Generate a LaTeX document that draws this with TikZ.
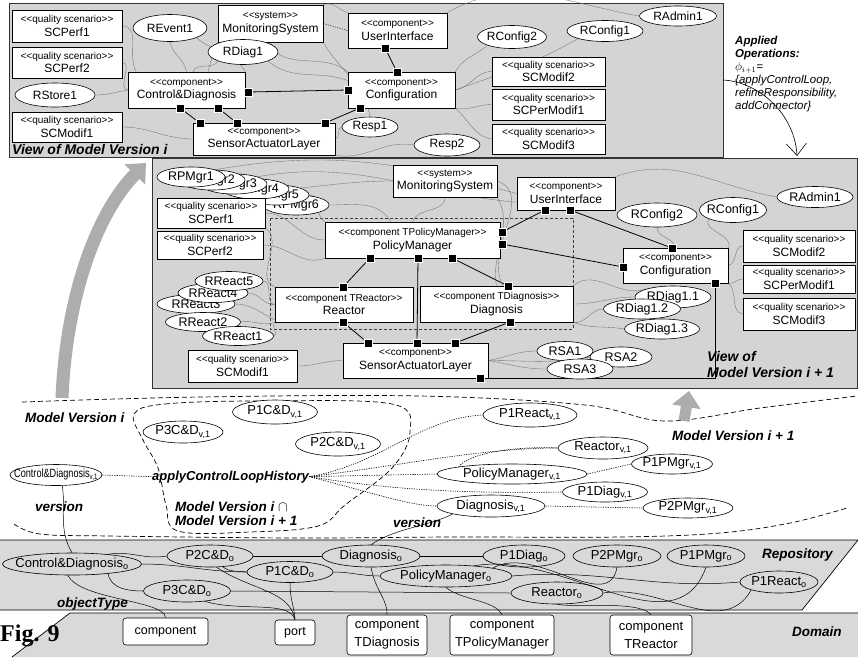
\documentclass[tikz,border=0pt]{standalone}
\usepackage{fontspec}
\usepackage{graphicx}
\setmainfont{Liberation Sans}
\newfontfamily\serfont{Liberation Serif}
\usetikzlibrary{shapes.geometric,arrows.meta}
\newcommand{\stq}[1]{{\fontsize{10}{12}\selectfont <\kern0pt<#1>\kern0pt>}}
\newcommand{\sbv}{\textsubscript{v,1}}
\newcommand{\sbo}{\textsubscript{o}}
\pgfdeclarelayer{back}
\pgfdeclarelayer{mid}
\pgfsetlayers{back,mid,main}
\tikzset{
  cbox/.style={draw=black, fill=white, line width=0.6pt, align=center, inner sep=1pt, font=\fontsize{12}{13.5}\selectfont},
  ell/.style={ellipse, draw=black, fill=white, line width=0.6pt, inner xsep=-14pt, inner ysep=-3pt, font=\fontsize{12}{14}\selectfont},
  vell/.style={ell, font=\fontsize{13}{15}\selectfont},
  rell/.style={ellipse, draw=black, line width=0.6pt, inner xsep=-14pt, inner ysep=-3pt, font=\fontsize{13}{15}\selectfont},
  port/.style={rectangle, fill=black, draw=white, line width=0.6pt, minimum size=8pt, inner sep=0pt},
  link/.style={draw=black!55, line width=0.35pt},
  conn/.style={draw=black, line width=0.8pt},
  lbl/.style={font=\fontsize{13.5}{15}\selectfont\bfseries\itshape, inner sep=0pt, anchor=base west},
  dotl/.style={draw=black, line width=0.6pt, dash pattern=on 1.2pt off 1.2pt},
  dashl/.style={draw=black, line width=0.7pt, dash pattern=on 5pt off 3pt},
  panel/.style={fill=black!17, draw=black!80, line width=0.7pt},
  dbox/.style={rounded corners=3pt, draw=black, fill=white, line width=0.6pt, align=center, font=\fontsize{13}{18}\selectfont, inner sep=1pt},
  rlink/.style={draw=black, line width=0.5pt},
  bigarr/.style={draw=black!32, line width=13pt, -{Triangle[length=16pt,width=28pt]}},
}
\begin{document}
\begin{tikzpicture}[x=1pt,y=-1pt]
\useasboundingbox (0,0) rectangle (858,657);

% ================= backgrounds =================
\begin{pgfonlayer}{back}
\fill[white] (0,0) rectangle (858,657);
\draw[panel] (9,3) rectangle (723,157);
\draw[panel] (152,158) rectangle (857,388);
\fill[black!15] (0,540) -- (858,540) -- (802,610) -- (0,610) -- cycle;
\draw[line width=0.7pt] (0,540) -- (858,540) -- (802,610) -- (0,610);
\fill[black!15] (70,613) -- (858,613) -- (858,657) -- (12,657) -- cycle;
\draw[line width=0.7pt] (12,657) -- (70,613) -- (858,613);
\end{pgfonlayer}

% ================= top panel: View of Model Version i =================
\node[cbox, minimum width=110, minimum height=32] (tscperf1) at (67,26) {\stq{quality scenario}\\SCPerf1};
\node[cbox, minimum width=110, minimum height=31] (tscperf2) at (67,62.5) {\stq{quality scenario}\\SCPerf2};
\node[cbox, minimum width=110, minimum height=30] (tscmodif1) at (67,127) {\stq{quality scenario}\\SCModif1};
\node[cbox, minimum width=105, minimum height=37] (tmon) at (270.5,23.5) {\stq{system}\\MonitoringSystem};
\node[cbox, minimum width=117, minimum height=36] (tcd) at (186.5,90) {\stq{component}\\Control\&Diagnosis};
\node[cbox, minimum width=99, minimum height=35] (tui) at (397.5,30.5) {\stq{component}\\UserInterface};
\node[cbox, minimum width=107, minimum height=36] (tcfg) at (401.5,90) {\stq{component}\\Configuration};
\node[cbox, minimum width=142, minimum height=32] (tsal) at (264,139) {\stq{component}\\SensorActuatorLayer};
\node[cbox, minimum width=113, minimum height=29] (tscmodif2) at (548.5,71.5) {\stq{quality scenario}\\SCModif2};
\node[cbox, minimum width=113, minimum height=31] (tscpm1) at (548.5,104.5) {\stq{quality scenario}\\SCPerModif1};
\node[cbox, minimum width=113, minimum height=30] (tscmodif3) at (548.5,139) {\stq{quality scenario}\\SCModif3};

\node[ell, minimum width=74, minimum height=27] (trevent1) at (170,28) {REvent1};
\node[ell, minimum width=70, minimum height=25] (trdiag1) at (243,52) {RDiag1};
\node[ell, minimum width=80, minimum height=24] (trstore1) at (55,95) {RStore1};
\node[ell, minimum width=69, minimum height=23] (trconfig2) at (512,37) {RConfig2};
\node[ell, minimum width=76, minimum height=21] (trconfig1) at (605,31) {RConfig1};
\node[ell, minimum width=77, minimum height=20] (tradmin1) at (678,16) {RAdmin1};
\node[ell, minimum width=56, minimum height=20] (tresp1) at (370,127) {Resp1};
\node[ell, minimum width=66, minimum height=22] (tresp2) at (447,145) {Resp2};

\node[port] (tcdp1) at (248,92) {};
\node[port] (tcdp2) at (180,108) {};
\node[port] (tcdp3) at (218,108) {};
\node[port] (tsalp1) at (200,123) {};
\node[port] (tsalp2) at (237,123) {};
\node[port] (tsalp3) at (325,123) {};
\node[port] (tcfgp1) at (397,72) {};
\node[port] (tcfgp2) at (348,90) {};
\node[port] (tcfgp3) at (360,108) {};
\node[port] (tuip1) at (385,48) {};

\node[lbl, font=\fontsize{14}{16}\selectfont\bfseries\itshape] (tview) at (12,154) {View of Model Version i};

\begin{pgfonlayer}{mid}
\draw[conn] (tcdp1) -- (tcfgp2);
\draw[conn] (tcdp2) -- (tsalp1);
\draw[conn] (tcdp3) -- (tsalp2);
\draw[conn] (tsalp3) -- (tcfgp3);
\draw[conn] (tuip1) -- (tcfgp1);
\draw[link] (tscperf1.east) to[out=0,in=120] (tcd.160);
\draw[link] (tscperf2.east) to[out=0,in=170] (tcd.west);
\draw[link] (trstore1.east) to[out=0,in=190] (tcd.west);
\draw[link] (tscmodif1.east) to[out=0,in=180] (tsal.west);
\draw[link] (trevent1.south) to[out=-80,in=100] (tcd.north);
\draw[link] (trevent1.south east) to[out=-40,in=120] (tcd.north east);
\draw[link] (trdiag1.south west) to[out=-120,in=70] (tcd.70);
\draw[link] (tmon.south west) to[out=-110,in=80] (tcd.40);
\draw[link] (tmon.south) to[out=-70,in=140] (tcfg.north west);
\draw[link] (trdiag1.south east) to[out=-40,in=160] (tcfg.170);
\draw[dotl, line width=0.4pt] (tmon.east) -- (tui.west);
\draw[link] (tmon.north east) to[out=20,in=160] (tui.north west);
\draw[link] (trconfig2.south west) to[out=-140,in=60] (tcfg.north east);
\draw[link] (trconfig1.south west) to[out=-150,in=20] (tcfg.east);
\draw[link] (tradmin1.west) to[out=170,in=30] (tui.north east);
\draw[link] (tscmodif2.west) to[out=180,in=10] (tcfg.east);
\draw[link] (tscpm1.west) to[out=180,in=-10] (tcfg.south east);
\draw[link] (tscmodif3.west) to[out=170,in=-40] (tcfg.south east);
\draw[link] (tresp1.west) to[out=180,in=0] (tsal.east);
\draw[link] (tresp2.west) to[out=170,in=-10] (tsal.south east);
\draw[link] (tmon.south east) to[out=-60,in=100] (tresp1.north);
\end{pgfonlayer}

% Applied operations
\node[anchor=north west, align=left, inner sep=0pt, font=\fontsize{11.5}{13}\selectfont\itshape] (apops) at (735,36)
  {\textbf{Applied}\\\textbf{Operations:}\\$\phi_{i+1}$=\\\{applyControlLoop,\\refineResponsibility,\\addConnector\}};
\coordinate (opsstart) at (723,80);
\coordinate (opsend) at (797,156);
\draw[line width=0.6pt, -{Straight Barb[length=12pt,width=20pt]}] (opsstart) .. controls (760,82) and (795,115) .. (opsend);

% ================= middle panel: View of Model Version i+1 =================
\node[ell, font=\fontsize{12.5}{14}\selectfont, minimum width=66, minimum height=20] (mrpmgr6) at (296,205) {RPMgr6};
\node[ell, font=\fontsize{12.5}{14}\selectfont, minimum width=66, minimum height=20] (mrpmgr5) at (276,195) {RPMgr5};
\node[ell, font=\fontsize{12.5}{14}\selectfont, minimum width=66, minimum height=20] (mrpmgr4) at (256,189) {RPMgr4};
\node[ell, font=\fontsize{12.5}{14}\selectfont, minimum width=66, minimum height=20] (mrpmgr3) at (234,184) {RPMgr3};
\node[ell, font=\fontsize{12.5}{14}\selectfont, minimum width=66, minimum height=20] (mrpmgr2) at (212,180) {RPMgr2};
\node[ell, font=\fontsize{12.5}{14}\selectfont, minimum width=68, minimum height=20] (mrpmgr1) at (191,177) {RPMgr1};

\node[cbox, minimum width=108, minimum height=30] (mscperf1) at (211,213) {\stq{quality scenario}\\SCPerf1};
\node[cbox, minimum width=106, minimum height=28] (mscperf2) at (210,245) {\stq{quality scenario}\\SCPerf2};

\node[ell, font=\fontsize{12.5}{14}\selectfont, minimum width=78, minimum height=19] (mrreact3) at (196,304) {RReact3};
\node[ell, font=\fontsize{12.5}{14}\selectfont, minimum width=70, minimum height=19] (mrreact4) at (213,293) {RReact4};
\node[ell, font=\fontsize{12.5}{14}\selectfont, minimum width=68, minimum height=19] (mrreact5) at (229,281) {RReact5};
\node[ell, font=\fontsize{12.5}{14}\selectfont, minimum width=75, minimum height=19] (mrreact2) at (203,322) {RReact2};
\node[ell, font=\fontsize{12.5}{14}\selectfont, minimum width=71, minimum height=19] (mrreact1) at (238,336) {RReact1};
\node[cbox, minimum width=109, minimum height=32] (mscmodif1) at (242.5,366) {\stq{quality scenario}\\SCModif1};

\node[cbox, minimum width=175, minimum height=36] (mpm) at (412.5,240) {\stq{component TPolicyManager}\\PolicyManager};
\node[cbox, minimum width=138, minimum height=35] (mreactor) at (344,304.5) {\stq{component TReactor}\\Reactor};
\node[cbox, minimum width=153, minimum height=36] (mdiag) at (496.5,304) {\stq{component TDiagnosis}\\Diagnosis};
\node[cbox, minimum width=145, minimum height=35] (msal) at (415.5,360.5) {\stq{component}\\SensorActuatorLayer};
\node[cbox, minimum width=104, minimum height=32] (mmon) at (445,181) {\stq{system}\\MonitoringSystem};
\node[cbox, minimum width=98, minimum height=33] (mui) at (566,193.5) {\stq{component}\\UserInterface};
\node[cbox, minimum width=105, minimum height=35] (mcfg) at (675.5,265.5) {\stq{component}\\Configuration};
\node[cbox, minimum width=112, minimum height=32] (mscmodif2) at (799,246) {\stq{quality scenario}\\SCModif2};
\node[cbox, minimum width=112, minimum height=28] (mscpm1) at (799,279) {\stq{quality scenario}\\SCPerModif1};
\node[cbox, minimum width=112, minimum height=32] (mscmodif3) at (799,314) {\stq{quality scenario}\\SCModif3};

\node[ell, font=\fontsize{12.5}{14}\selectfont, minimum width=80, minimum height=24] (mrconfig2) at (657,215) {RConfig2};
\node[ell, font=\fontsize{12.5}{14}\selectfont, minimum width=67, minimum height=25] (mrconfig1) at (733,210) {RConfig1};
\node[ell, font=\fontsize{12.5}{14}\selectfont, minimum width=76, minimum height=21] (mradmin1) at (815,197) {RAdmin1};
\node[ell, font=\fontsize{12.5}{14}\selectfont, minimum width=76, minimum height=22] (mrdiag11) at (673,297) {RDiag1.1};
\node[ell, font=\fontsize{12.5}{14}\selectfont, minimum width=77, minimum height=20] (mrdiag12) at (642,309) {RDiag1.2};
\node[ell, font=\fontsize{12.5}{14}\selectfont, minimum width=75, minimum height=20] (mrdiag13) at (662,329) {RDiag1.3};
\node[ell, font=\fontsize{12.5}{14}\selectfont, minimum width=56, minimum height=19] (mrsa1) at (565,351) {RSA1};
\node[ell, font=\fontsize{12.5}{14}\selectfont, minimum width=62, minimum height=20] (mrsa2) at (621,357) {RSA2};
\node[ell, font=\fontsize{12.5}{14}\selectfont, minimum width=66, minimum height=20] (mrsa3) at (580,369) {RSA3};

\node[port] (mpmp1) at (502,232) {};
\node[port] (mpmp2) at (502,244) {};
\node[port] (mpmp3) at (370,258) {};
\node[port] (mpmp4) at (418,258) {};
\node[port] (mpmp5) at (452,258) {};
\node[port] (mreap1) at (343,287) {};
\node[port] (mreap2) at (343,322) {};
\node[port] (mdiap1) at (508,286) {};
\node[port] (mdiap2) at (510,322) {};
\node[port] (msalp1) at (368,343) {};
\node[port] (msalp2) at (417,343) {};
\node[port] (msalp3) at (455,343) {};
\node[port] (msalp4) at (480,378) {};
\node[port] (muip1) at (545,210) {};
\node[port] (muip2) at (570,210) {};
\node[port] (mcfgp1) at (672,248) {};
\node[port] (mcfgp2) at (623,267) {};
\node[port] (mcfgp3) at (715,283) {};

\node[lbl, font=\fontsize{14}{16}\selectfont\bfseries\itshape] (mview1) at (707,361) {View of};
\node[lbl, font=\fontsize{14}{16}\selectfont\bfseries\itshape] (mview2) at (707,377) {Model Version i + 1};

\begin{pgfonlayer}{mid}
\draw[black!75, line width=0.6pt, dash pattern=on 3pt off 2pt] (270,218) rectangle (573,329);
\draw[conn] (mpmp3) -- (mreap1);
\draw[conn] (mpmp5) -- (mdiap1);
\draw[conn] (mpmp4) -- (msalp2);
\draw[conn] (mreap2) -- (msalp1);
\draw[conn] (mdiap2) -- (msalp3);
\draw[conn] (mpmp1) -- (muip1);
\draw[conn] (mpmp2) -- (mcfgp2);
\draw[conn] (muip2) -- (mcfgp1);
\draw[conn] (mcfgp3) |- (msalp4);
\draw[link] (mrpmgr1.north east) to[out=10,in=165] (mui.west);
\draw[link] (mrpmgr3.north east) to[out=10,in=175] (mui.190);
\draw[link] (mrpmgr5.east) to[out=0,in=150] (mpm.north west);
\draw[link] (mrpmgr6.east) to[out=0,in=120] (mpm.140);
\draw[link] (mrpmgr4.east) to[out=5,in=180] (mmon.west);
\draw[link] (mscperf1.east) to[out=0,in=180] (mpm.west);
\draw[link] (mscperf2.east) to[out=0,in=200] (mpm.south west);
\draw[link] (mscperf1.south east) to[out=-30,in=160] (mreactor.north west);
\draw[link] (mrreact5.east) to[out=0,in=180] (mreactor.west);
\draw[link] (mrreact4.east) to[out=0,in=185] (mreactor.west);
\draw[link] (mrreact3.east) to[out=0,in=190] (mreactor.200);
\draw[link] (mrreact2.east) to[out=10,in=200] (mreactor.south west);
\draw[link] (mrreact1.east) to[out=10,in=220] (mreactor.south west);
\draw[link] (mscmodif1.east) to[out=0,in=180] (msal.west);
\draw[link] (mmon.south) to[out=-90,in=70] (mpm.north);
\draw[link] (mmon.south east) to[out=-60,in=100] (mdiag.north);
\draw[link] (mmon.east) to[out=-20,in=120] (mdiag.70);
\draw[link] (mrconfig2.south) to[out=-90,in=100] (mcfg.north);
\draw[link] (mrconfig1.south west) to[out=-130,in=60] (mcfg.north east);
\draw[link] (mradmin1.west) to[out=170,in=20] (mui.north east);
\draw[link] (mscmodif2.west) to[out=180,in=10] (mcfg.east);
\draw[link] (mscpm1.west) to[out=180,in=-10] (mcfg.south east);
\draw[link] (mscmodif3.west) to[out=170,in=-40] (mcfg.south east);
\draw[link] (mrdiag11.west) to[out=180,in=0] (mdiag.east);
\draw[link] (mrdiag12.west) to[out=180,in=-10] (mdiag.south east);
\draw[link] (mrdiag13.west) to[out=170,in=-20] (mdiag.south east);
\draw[link] (mrsa1.west) to[out=180,in=10] (msal.east);
\draw[link] (mrsa2.west) to[out=190,in=0] (msal.east);
\draw[link] (mrsa3.west) to[out=180,in=-10] (msal.east);
\draw[link] (mdiag.north east) to[out=40,in=200] (mrdiag11.north west);
\end{pgfonlayer}

% big gray arrows
\coordinate (ga1s) at (62,398);
\coordinate (ga1e) at (146,163);
\draw[bigarr] (ga1s) .. controls (66,300) and (95,215) .. (ga1e);
\coordinate (ga2s) at (684,421);
\coordinate (ga2e) at (689,391);
\draw[bigarr, line width=11pt] (ga2s) -- (ga2e);

% ================= model versions =================
\node[vell, minimum width=85, minimum height=24] (p1cdv) at (275,412) {P1C\&D\sbv};
\node[vell, minimum width=80, minimum height=22] (p3cdv) at (183,432) {P3C\&D\sbv};
\node[vell, minimum width=85, minimum height=24] (p2cdv) at (338,444) {P2C\&D\sbv};
\node[vell, font=\fontsize{12}{14}\selectfont, minimum width=92, minimum height=21] (cdv) at (56,475) {\scalebox{0.76}[1]{Control\&Diagnosis\sbv}};
\node[vell, minimum width=94, minimum height=24] (p1reactv) at (530,415) {P1React\sbv};
\node[vell, minimum width=90, minimum height=22] (reactv) at (603,448) {Reactor\sbv};
\node[vell, minimum width=81, minimum height=20] (p1pmgrv) at (672,464) {P1PMgr\sbv};
\node[vell, minimum width=150, minimum height=20] (pmv) at (512,474) {PolicyManager\sbv};
\node[vell, minimum width=85, minimum height=20] (p1diagv) at (605,492) {P1Diag\sbv};
\node[vell, minimum width=108, minimum height=22] (diagv) at (491,506) {Diagnosis\sbv};
\node[vell, minimum width=90, minimum height=20] (p2pmgrv) at (688,508) {P2PMgr\sbv};

\node[lbl] (lmvi) at (25,422) {Model Version i};
\node[lbl, font=\fontsize{13}{15}\selectfont\bfseries\itshape] (lhist) at (152,480) {applyControlLoopHistory};
\node[lbl] (lver1) at (35,511) {version};
\node[lbl] (lint1) at (175,511) {Model Version i $\cap$};
\node[lbl] (lint2) at (175,525) {Model Version i + 1};
\node[lbl] (lmvi1) at (672,440) {Model Version i + 1};
\node[lbl] (lver2) at (393,527) {version};

% ================= repository =================
\node[rell, minimum width=139, minimum height=22] (cdo) at (72,564) {Control\&Diagnosis\sbo};
\node[rell, minimum width=86, minimum height=22] (p2cdo) at (210,556) {P2C\&D\sbo};
\node[rell, minimum width=98, minimum height=22] (diago) at (371,556) {Diagnosis\sbo};
\node[rell, minimum width=82, minimum height=22] (p1diago) at (524,556) {P1Diag\sbo};
\node[rell, minimum width=88, minimum height=22] (p2pmgro) at (617,556) {P2PMgr\sbo};
\node[rell, minimum width=78, minimum height=22] (p1pmgro) at (706,556) {P1PMgr\sbo};
\node[rell, minimum width=86, minimum height=21] (p1cdo) at (290,572) {P1C\&D\sbo};
\node[rell, minimum width=87, minimum height=22] (p3cdo) at (187,591) {P3C\&D\sbo};
\node[rell, minimum width=132, minimum height=22] (pmo) at (446,576) {PolicyManager\sbo};
\node[rell, minimum width=92, minimum height=22] (reacto) at (557,593) {Reactor\sbo};
\node[rell, minimum width=78, minimum height=22] (p1reacto) at (779,582) {P1React\sbo};
\node[lbl] (lrepo) at (762,558) {Repository};
\node[lbl] (lobj) at (57,607) {objectType};

% ================= domain =================
\node[dbox, font=\fontsize{12.5}{14}\selectfont, minimum width=85, minimum height=27] (dcomp) at (165.5,631.5) {component};
\node[dbox, font=\fontsize{12.5}{14}\selectfont, minimum width=40, minimum height=25] (dport) at (295,632.5) {port};
\node[dbox, minimum width=80, minimum height=40] (dtdiag) at (387,635) {component\\TDiagnosis};
\node[dbox, minimum width=104, minimum height=40] (dtpm) at (502,635) {component\\TPolicyManager};
\node[dbox, minimum width=82, minimum height=40] (dtreact) at (651,635) {component\\TReactor};
\node[lbl] (ldom) at (792,636) {Domain};
\node[font=\serfont\bfseries\fontsize{24}{26}\selectfont, anchor=base west, inner sep=0pt] (lfig) at (0,641) {Fig. 9};

\begin{pgfonlayer}{mid}
\draw[dashl] plot[smooth, tension=0.6] coordinates {(22,402) (200,397) (420,396) (585,405) (665,421) (760,408) (857,396)};
\draw[dashl] plot[smooth, tension=0.6] coordinates {(14,524) (40,534) (110,536) (300,538) (450,537) (620,537) (720,533) (790,523) (847,508)};
\draw[dashl] plot[smooth cycle, tension=0.6] coordinates {(134,414) (165,404) (260,401) (392,404) (410,432) (392,468) (345,505) (318,526) (250,532) (178,531) (166,505) (158,468) (143,440)};
\draw[dotl] (cdv.east) -- (lhist.west);
\draw[dotl] (lhist.east) .. controls (380,465) and (420,418) .. (p1reactv.west);
\draw[dotl] (lhist.east) .. controls (400,466) and (480,448) .. (reactv.west);
\draw[dotl] (lhist.east) -- (pmv.west);
\draw[dotl] (lhist.east) .. controls (380,488) and (450,494) .. (p1diagv.west);
\draw[dotl] (lhist.east) .. controls (370,492) and (410,506) .. (diagv.west);
\draw[dotl] (pmv.east) -- (p1pmgrv.west);
\draw[dotl] (pmv.north west) .. controls (470,452) and (520,446) .. (reactv.west);
\draw[dotl] (diagv.east) -- (p2pmgrv.west);
\draw[rlink] (cdv.-60) .. controls (66,505) and (58,530) .. (cdo.north);
\draw[rlink] (diagv.south west) .. controls (430,526) and (395,528) .. (diago.north);
% repository links
\draw[rlink] (cdo.15) to[out=10,in=190] (p2cdo.west);
\draw[rlink] (p2cdo.east) -- (diago.west);
\draw[rlink] (diago.east) -- (p1diago.west);
\draw[rlink] (cdo.east) to[out=0,in=180] (p1cdo.west);
\draw[rlink] (p2cdo.-40) to[out=-40,in=170] (p1cdo.west);
\draw[rlink] (cdo.-15) to[out=-80,in=180] (p3cdo.west);
\draw[rlink] (p1cdo.east) to[out=0,in=180] (pmo.west);
\draw[rlink] (pmo.east) to[out=5,in=185] (p1reacto.west);
\draw[rlink] (pmo.north east) to[out=30,in=-100] (p2pmgro.south);
\draw[rlink] (pmo.20) to[out=10,in=-110] (p1pmgro.south);
\draw[rlink] (p3cdo.east) -- (reacto.west);
\draw[rlink] (reacto.east) to[out=10,in=-120] (p1reacto.south west);
% objectType links
\draw[rlink] (cdo.-110) .. controls (80,600) and (165,600) .. (dcomp.north);
\draw[rlink] (p3cdo.-30) .. controls (240,612) and (290,600) .. (dport.north);
\draw[rlink] (p2cdo.-60) .. controls (250,590) and (290,590) .. (dport.north);
\draw[rlink] (p1cdo.south) .. controls (290,600) and (294,605) .. (dport.north);
\draw[rlink] (diago.south) .. controls (375,590) and (388,600) .. (dtdiag.north);
\draw[rlink] (pmo.south) .. controls (460,600) and (495,600) .. (dtpm.north);
\draw[rlink] (reacto.south) .. controls (575,608) and (640,600) .. (dtreact.north);
\end{pgfonlayer}
\end{tikzpicture}
\end{document}
